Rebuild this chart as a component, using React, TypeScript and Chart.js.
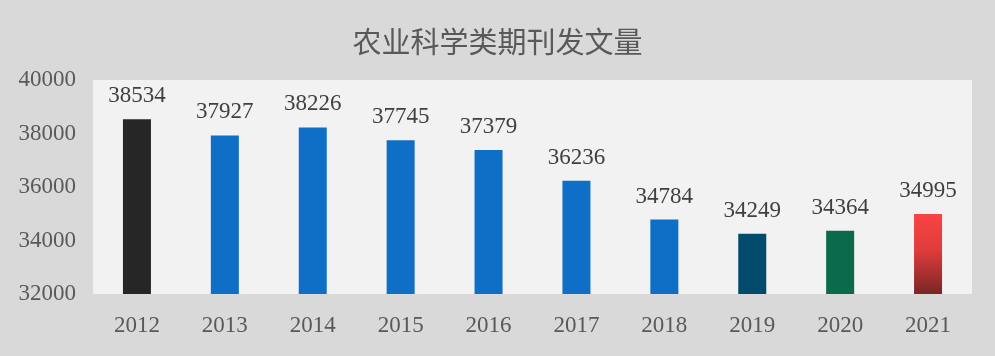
import React, { useEffect, useRef } from "react";
import { Chart, registerables } from "chart.js";

Chart.register(...registerables);

const TITLE = "农业科学类期刊发文量";
const YEARS = ["2012", "2013", "2014", "2015", "2016", "2017", "2018", "2019", "2020", "2021"];
const COUNTS = [38534, 37927, 38226, 37745, 37379, 36236, 34784, 34249, 34364, 34995];
const BAR_COLORS = [
  "#262626",
  "#0f6fc6",
  "#0f6fc6",
  "#0f6fc6",
  "#0f6fc6",
  "#0f6fc6",
  "#0f6fc6",
  "#034b6c",
  "#0a6a4b",
  "gradient",
];
const Y_MIN = 32000;
const Y_MAX = 40000;
const Y_STEP = 2000;

const SERIF = "'Liberation Serif', 'Times New Roman', serif";

const bgPlugin = {
  id: "bgPlugin",
  beforeDraw(chart: any) {
    const { ctx, chartArea } = chart;
    ctx.save();
    ctx.fillStyle = "#d9d9d9";
    ctx.fillRect(0, 0, chart.width, chart.height);
    ctx.fillStyle = "#f2f2f2";
    ctx.fillRect(chartArea.left, chartArea.top, chartArea.right - chartArea.left, chartArea.bottom - chartArea.top);
    ctx.fillStyle = "#595959";
    ctx.font = "29px 'Noto Sans CJK SC', sans-serif";
    ctx.textAlign = "center";
    ctx.textBaseline = "middle";
    ctx.fillText(TITLE, chart.width / 2, 42);
    ctx.restore();
  },
};

const valueLabels = {
  id: "valueLabels",
  afterDatasetsDraw(chart: any) {
    const { ctx } = chart;
    const meta = chart.getDatasetMeta(0);
    ctx.save();
    ctx.font = "23px " + SERIF;
    ctx.fillStyle = "#404040";
    ctx.textAlign = "center";
    ctx.textBaseline = "alphabetic";
    meta.data.forEach((bar: any, i: number) => {
      ctx.fillText(String(COUNTS[i]), bar.x, bar.y - 17);
    });
    ctx.restore();
  },
};

export default function App() {
  const ref = useRef<HTMLCanvasElement>(null);
  useEffect(() => {
    document.body.style.margin = "0";
    const canvas = ref.current!;
    const chart = new Chart(canvas, {
      type: "bar",
      data: {
        labels: YEARS,
        datasets: [
          {
            data: COUNTS,
            backgroundColor: (c: any) => {
              const col = BAR_COLORS[c.dataIndex];
              if (col !== "gradient") return col;
              const ch = c.chart;
              const area = ch.chartArea;
              if (!area) return "#f84242";
              const yTop = ch.scales.y.getPixelForValue(COUNTS[c.dataIndex]);
              const g = ch.ctx.createLinearGradient(0, yTop, 0, area.bottom);
              g.addColorStop(0, "#fa4343");
              g.addColorStop(0.45, "#e03c3c");
              g.addColorStop(1, "#7a2626");
              return g;
            },
            borderWidth: 0,
            categoryPercentage: 1,
            barPercentage: 0.3186,
          },
        ],
      },
      options: {
        responsive: false,
        animation: false,
        layout: { padding: { left: 0, right: 23, top: 80, bottom: 0 } },
        plugins: {
          legend: { display: false },
          tooltip: { enabled: false },
          title: { display: false },
        },
        scales: {
          x: {
            grid: { display: false, drawTicks: false },
            border: { display: false },
            ticks: { color: "#595959", font: { family: SERIF, size: 23 }, padding: 18 },
            afterFit: (s: any) => {
              s.height = 62;
            },
          },
          y: {
            min: Y_MIN,
            max: Y_MAX,
            grid: { display: false, drawTicks: false },
            border: { display: false },
            ticks: {
              stepSize: Y_STEP,
              color: "#595959",
              font: { family: SERIF, size: 23 },
              padding: 17,
              callback: (v: any) => String(v),
            },
            afterFit: (s: any) => {
              s.width = 93;
            },
          },
        },
      },
      plugins: [bgPlugin, valueLabels],
    });
    return () => chart.destroy();
  }, []);
  return (
    <div style={{ width: 995, height: 356 }}>
      <canvas ref={ref} width={995} height={356} style={{ display: "block" }} />
    </div>
  );
}
